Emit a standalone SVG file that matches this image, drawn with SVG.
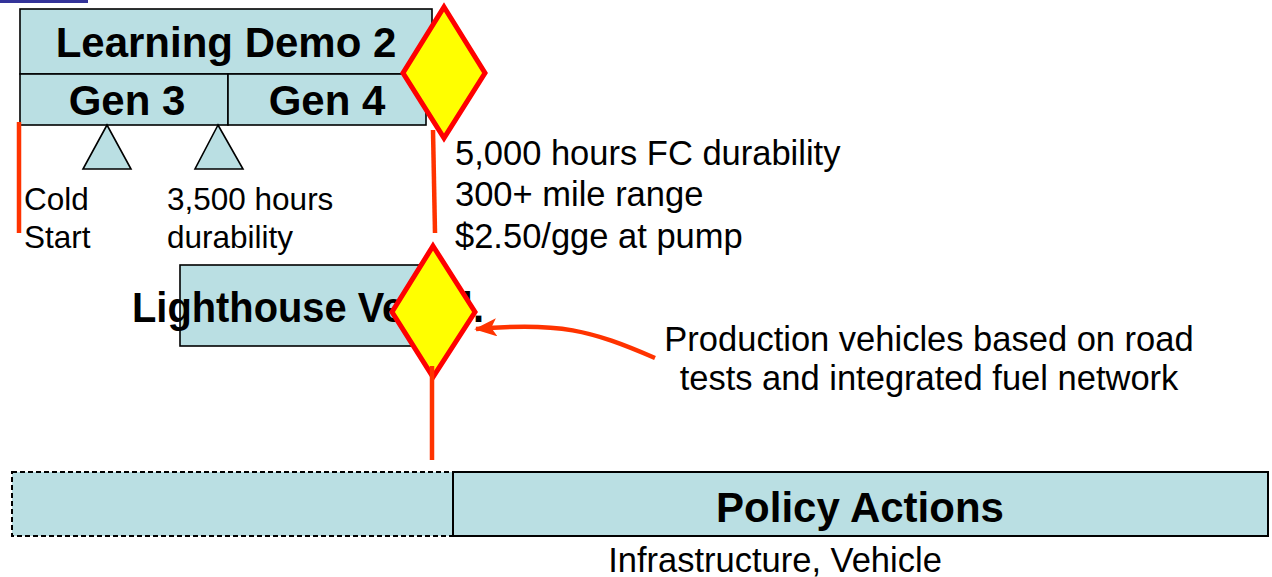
<svg xmlns="http://www.w3.org/2000/svg" width="1272" height="577" viewBox="0 0 1272 577">
<style>
.box{fill:#badfe3;stroke:#000;stroke-width:1.6}
.dia{fill:#ffff00;stroke:#ff0000;stroke-width:5;stroke-linejoin:miter}
.ln{stroke:#ff3300;stroke-width:4.5;fill:none}
.b{font-family:"Liberation Sans",Arial,sans-serif;font-weight:bold;font-size:42px;fill:#000}
.t{font-family:"Liberation Sans",Arial,sans-serif;font-size:34.5px;fill:#000}
.s{font-family:"Liberation Sans",Arial,sans-serif;font-size:31.5px;fill:#000}
</style>
<defs>
<marker id="ah" markerWidth="5" markerHeight="4" refX="4.6" refY="2" orient="auto" markerUnits="strokeWidth">
<path d="M0,0 L5,2 L0,4 L1.2,2 Z" fill="#ff3300"/>
</marker>
</defs>
<rect x="0" y="0" width="88" height="3" fill="#333399"/>
<g id="learning-demo">
<rect class="box" x="20" y="9" width="412" height="65"/>
<text class="b" x="226" y="57" text-anchor="middle">Learning Demo 2</text>
</g>
<g id="gen3">
<rect class="box" x="20" y="74" width="208" height="51"/>
<text class="b" x="127" y="115" text-anchor="middle">Gen 3</text>
</g>
<g id="gen4">
<rect class="box" x="228" y="74" width="198" height="51"/>
<text class="b" x="327" y="115" text-anchor="middle">Gen 4</text>
</g>
<g id="tri1">
<polygon class="box" points="107,125 83,169 131,169"/>
</g>
<g id="tri2">
<polygon class="box" points="218,125 195,169 243,169"/>
</g>
<g id="cold-start">
<text class="s" x="24" y="210">Cold</text>
<text class="s" x="24" y="248">Start</text>
</g>
<g id="durability35">
<text class="s" x="167" y="210">3,500 hours</text>
<text class="s" x="167" y="248">durability</text>
</g>
<g id="targets">
<text class="t" x="455" y="165">5,000 hours FC durability</text>
<text class="t" x="455" y="206">300+ mile range</text>
<text class="t" x="455" y="248">$2.50/gge at pump</text>
</g>
<g id="lighthouse">
<rect class="box" x="180" y="265" width="250" height="81"/>
<text class="b" x="132" y="322" textLength="352" lengthAdjust="spacingAndGlyphs">Lighthouse Vehicl.</text>
</g>
<g id="diamond-top">
<polygon class="dia" points="444,7 485,73 444,138 403,73"/>
</g>
<g id="diamond-bottom">
<polygon class="dia" points="433,246 475,312 433,377 392,312"/>
</g>
<g id="production-note">
<text class="t" x="929" y="351" text-anchor="middle">Production vehicles based on road</text>
<text class="t" x="929" y="390" text-anchor="middle">tests and integrated fuel network</text>
</g>
<g id="policy-left">
<rect x="12" y="472" width="441" height="64" fill="#badfe3" stroke="#000" stroke-width="2" stroke-dasharray="5 3"/>
</g>
<g id="policy-actions">
<rect x="453" y="472" width="815" height="64" fill="#badfe3" stroke="#000" stroke-width="2"/>
<text class="b" x="860" y="522" text-anchor="middle">Policy Actions</text>
</g>
<g id="infra">
<text class="t" x="775" y="572" text-anchor="middle">Infrastructure, Vehicle</text>
</g>
<g id="connectors">
<line class="ln" x1="19" y1="122" x2="19" y2="233"/>
<line class="ln" x1="433" y1="130" x2="435" y2="233"/>
<line class="ln" x1="432" y1="366" x2="432" y2="460"/>
<path class="ln" d="M655,358 C590,330 560,322 476,329" marker-end="url(#ah)"/>
</g>
</svg>
